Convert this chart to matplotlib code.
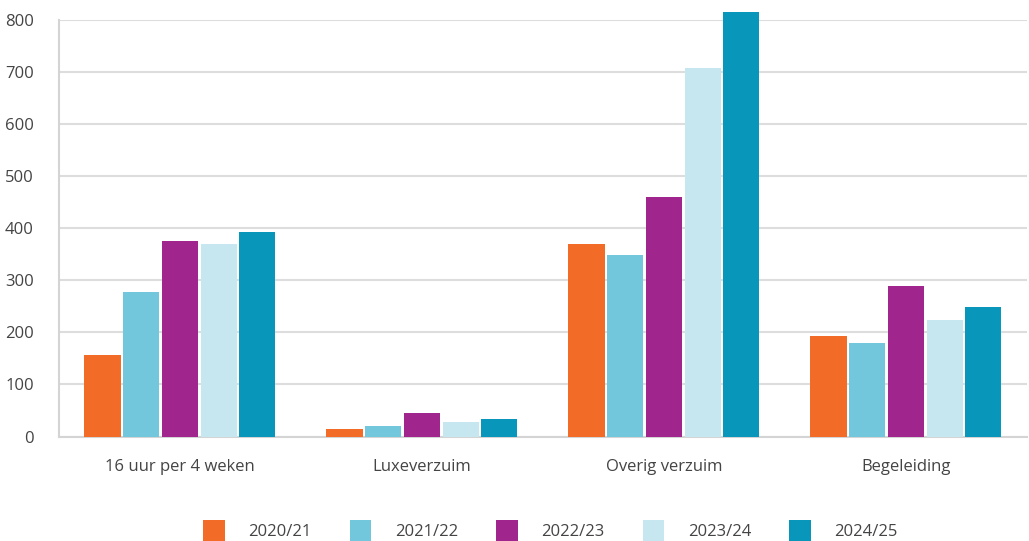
import numpy as np
from matplotlib import pyplot as plt

# ---- data ----
categories = ["16 uur per 4 weken", "Luxeverzuim", "Overig verzuim", "Begeleiding"]
years = ["2020/21", "2021/22", "2022/23", "2023/24", "2024/25"]
v2020 = [156, 15, 369, 193]
v2021 = [277, 21, 348, 179]
v2022 = [375, 45, 460, 289]
v2023 = [369, 28, 708, 224]
v2024 = [392, 34, 815, 249]
series = [v2020, v2021, v2022, v2023, v2024]
colors = ["#F26B27", "#72C7DC", "#A0258C", "#C6E7F0", "#0897BA"]
yticks = [0, 100, 200, 300, 400, 500, 600, 700, 800]

plt.rcParams['font.family'] = ['Open Sans', 'DejaVu Sans']
txt = "#444444"

fig = plt.figure(figsize=(10.29, 5.41), dpi=100)
ax = fig.add_axes([0.0573, 0.193, 0.9407, 0.7706])

x = np.arange(len(categories))
pitch = 0.16
width = 0.149
for i, (vals, col, lab) in enumerate(zip(series, colors, years)):
    ax.bar(x + (i - 2) * pitch, vals, width, color=col, label=lab,
           clip_on=False, zorder=3)

ax.set_xlim(-0.5, len(categories) - 0.5)
ax.set_ylim(0, 800)
ax.set_yticks(yticks)
ax.set_xticks(x)
ax.set_xticklabels(categories)
ax.grid(axis='y', color="#dddddd", linewidth=1.5, zorder=0)
ax.tick_params(length=0, labelsize=12, colors=txt)
ax.tick_params(axis='x', pad=16)
ax.tick_params(axis='y', pad=18)
for s in ["top", "right"]:
    ax.spines[s].set_visible(False)
for s in ["left", "bottom"]:
    ax.spines[s].set_color("#d4d4d4")
    ax.spines[s].set_linewidth(1.5)

leg = fig.legend(loc='lower center', bbox_to_anchor=(0.535, -0.03), ncol=5,
                 frameon=False, fontsize=12, handlelength=1.3, handleheight=1.7,
                 handletextpad=1.4, columnspacing=2.3, labelcolor=txt)

fig.savefig("out.png", dpi=100)
